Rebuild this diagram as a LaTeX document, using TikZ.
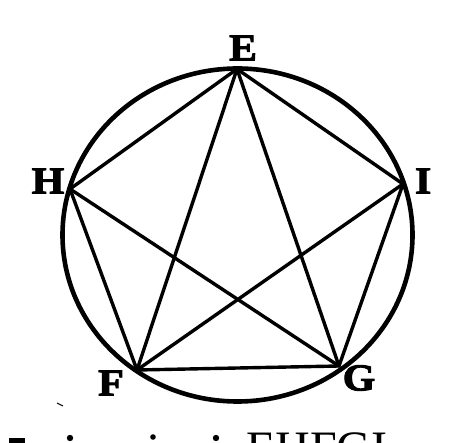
\documentclass[tikz,border=0pt]{standalone}
\usepackage{fontspec}
\newfontfamily\captionserif{Liberation Serif}
\newfontfamily\labfont[BoldFeatures={FakeBold=2.5}]{Liberation Serif}
\tikzset{
  rim/.style={line width=4.6pt},
  chord/.style={line width=3.4pt, line cap=round, line join=round},
  lab/.style={font=\labfont\fontsize{38}{38}\selectfont\bfseries, inner sep=0pt},
  speck/.style={fill=black},
}
\newcommand{\wide}[1]{\scalebox{1.1}[1]{#1}}
\begin{document}
\begin{tikzpicture}[x=1pt,y=-1pt]
\begin{scope}
\clip (0,0) rectangle (469,443);
\fill[white] (0,0) rectangle (469,443);
% vertices
\coordinate (E) at (237,69);
\coordinate (H) at (70,189);
\coordinate (I) at (403,184);
\coordinate (F) at (137,370);
\coordinate (G) at (339,366);
% circle
\draw[rim] (237.5,235) ellipse [x radius=175pt, y radius=166.5pt];
% pentagon
\draw[chord] (E) -- (H) -- (F) -- (G) -- (I) -- cycle;
% diagonals
\draw[chord] (E) -- (F);
\draw[chord] (E) -- (G);
\draw[chord] (H) -- (G);
\draw[chord] (I) -- (F);
% labels
\node[lab] (lE) at (243,48) {\wide{E}};
\node[lab] (lH) at (48,181) {\wide{H}};
\node[lab] (lI) at (423,181) {\wide{I}};
\node[lab] (lF) at (111,383) {\wide{F}};
\node[lab] (lG) at (359,378) {\wide{G}};
% cut-off caption at the bottom
\node[inner sep=0pt, anchor=base west, font=\captionserif\fontsize{48}{48}\selectfont] (cap) at (246,465) {EHFGI};
\fill[speck] (70,438) circle (3.2pt);
\fill[speck] (153,437) circle (2.8pt);
\fill[speck] (216,438) circle (3.2pt);
\fill[speck] (9,438) rectangle (25,443);
\draw[line width=1pt] (57,403) -- (63,406);
\end{scope}
\pgfresetboundingbox
\useasboundingbox (0,0) rectangle (469,443);
\end{tikzpicture}
\end{document}
